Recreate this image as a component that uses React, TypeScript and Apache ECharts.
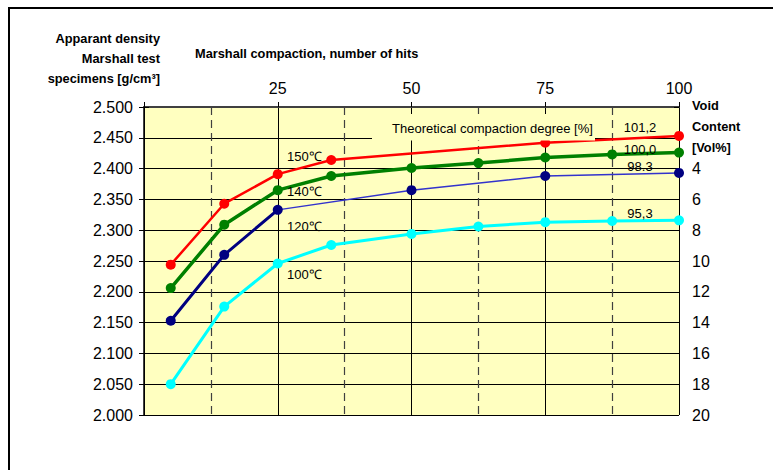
import React, { useEffect, useRef } from "react";
import * as echarts from "echarts";

// Marshall compaction (hits) and apparent density (g/cm³) per mixing temperature
const hits150 = [5, 15, 25, 35, 75, 100];
const density150 = [2.244, 2.343, 2.391, 2.414, 2.442, 2.453];

const hitsFull = [5, 15, 25, 35, 50, 62.5, 75, 87.5, 100];
const density140 = [2.206, 2.309, 2.365, 2.388, 2.401, 2.409, 2.418, 2.423, 2.426];
const density100 = [2.05, 2.176, 2.246, 2.276, 2.294, 2.306, 2.313, 2.315, 2.316];

const hits120 = [5, 15, 25, 50, 75, 100];
const density120 = [2.153, 2.26, 2.333, 2.365, 2.388, 2.393];

const hitTicks = [25, 50, 75, 100];
const voidTicks = [4, 6, 8, 10, 12, 14, 16, 18, 20];

const tempLabels = ["150℃", "140℃", "120℃", "100℃"];
const degreeLabels = ["101,2", "100,0", "98.3", "95,3"];

const FONT = "Liberation Sans, Arial, sans-serif";

const zip = (xs: number[], ys: number[]) => xs.map((x, i) => [x, ys[i]]);

export default function App() {
  const ref = useRef<HTMLDivElement>(null);

  useEffect(() => {
    if (!ref.current) return;
    const chart = echarts.init(ref.current, null, { renderer: "svg" });

    const txt = (
      text: string,
      x: number,
      y: number,
      opts: { bold?: boolean; size?: number; align?: string } = {}
    ) => ({
      type: "text",
      x,
      y,
      z: 110,
      silent: true,
      style: {
        text,
        fill: "#000",
        fontSize: opts.size ?? 13,
        fontFamily: FONT,
        fontWeight: opts.bold ? "bold" : "normal",
        align: opts.align ?? "left",
        verticalAlign: "middle",
      },
    });

    const option: any = {
      animation: false,
      backgroundColor: "#ffffff",
      grid: {
        left: 144,
        right: 94,
        top: 107,
        bottom: 55,
        show: true,
        backgroundColor: "#ffffc0",
        borderWidth: 0,
      },
      xAxis: [
        {
          type: "value",
          position: "top",
          min: 0,
          max: 100,
          interval: 25,
          axisLine: { show: true, lineStyle: { color: "#000", width: 1 } },
          axisTick: { show: true, length: 5, lineStyle: { color: "#000" } },
          axisLabel: {
            fontSize: 16,
            fontFamily: FONT,
            color: "#000",
            margin: 11,
            formatter: (v: number) => (hitTicks.includes(v) ? String(v) : ""),
          },
          splitLine: { show: true, lineStyle: { color: "#000", width: 1 } },
        },
        {
          type: "value",
          position: "bottom",
          min: 0,
          max: 100,
          interval: 12.5,
          axisLine: { show: true, lineStyle: { color: "#404040", width: 2 } },
          axisTick: { show: false },
          axisLabel: { show: false },
          splitLine: {
            show: true,
            lineStyle: {
              color: ["rgba(0,0,0,0)", "#404040"],
              type: [8, 5],
              width: 1.2,
            },
          },
        },
      ],
      yAxis: [
        {
          type: "value",
          position: "left",
          min: 2.0,
          max: 2.5,
          interval: 0.05,
          axisLine: { show: true, lineStyle: { color: "#404040", width: 2 } },
          axisTick: { show: true, length: 5, lineStyle: { color: "#000" } },
          axisLabel: {
            fontSize: 16,
            fontFamily: FONT,
            color: "#000",
            margin: 11,
            formatter: (v: number) => v.toFixed(3),
          },
          splitLine: { show: true, lineStyle: { color: "#000", width: 1 } },
        },
        {
          type: "value",
          position: "right",
          inverse: true,
          min: 0,
          max: 20,
          interval: 2,
          axisLine: { show: true, lineStyle: { color: "#000", width: 1 } },
          axisTick: { show: true, length: 5, lineStyle: { color: "#000" } },
          axisLabel: {
            fontSize: 16,
            fontFamily: FONT,
            color: "#000",
            margin: 13,
            formatter: (v: number) => (voidTicks.includes(v) ? String(v) : ""),
          },
          splitLine: { show: false },
        },
        {
          type: "value",
          position: "right",
          inverse: true,
          min: 0,
          max: 20,
          interval: 2,
          axisLine: { show: false },
          axisTick: { show: true, inside: true, length: 5, lineStyle: { color: "#000" } },
          axisLabel: { show: false },
          splitLine: { show: false },
        },
      ],
      series: [
        {
          name: "100℃",
          type: "line",
          data: zip(hitsFull, density100),
          symbol: "circle",
          symbolSize: 10,
          lineStyle: { color: "#00ffff", width: 3 },
          itemStyle: { color: "#00ffff" },
          silent: true,
        },
        {
          name: "120℃",
          type: "line",
          data: zip(hits120, density120),
          symbol: "circle",
          symbolSize: 10,
          lineStyle: { color: "#3333cc", width: 1.5 },
          itemStyle: { color: "#000080" },
          silent: true,
        },
        {
          name: "120℃ early",
          type: "line",
          data: zip(hits120.slice(0, 3), density120.slice(0, 3)),
          symbol: "none",
          lineStyle: { color: "#000080", width: 3 },
          silent: true,
        },
        {
          name: "140℃",
          type: "line",
          data: zip(hitsFull, density140),
          symbol: "circle",
          symbolSize: 10,
          lineStyle: { color: "#008000", width: 3.5 },
          itemStyle: { color: "#008000" },
          silent: true,
        },
        {
          name: "150℃",
          type: "line",
          data: zip(hits150, density150),
          symbol: "circle",
          symbolSize: 10,
          lineStyle: { color: "#ff0000", width: 2.5 },
          itemStyle: { color: "#ff0000" },
          silent: true,
        },
      ],
      graphic: [
        // frame
        { type: "line", z: 120, shape: { x1: 9, y1: 8, x2: 9, y2: 470 }, style: { stroke: "#000", lineWidth: 2 } },
        { type: "line", z: 120, shape: { x1: 8, y1: 8, x2: 773, y2: 8 }, style: { stroke: "#000", lineWidth: 2 } },
        // box behind the compaction-degree caption
        {
          type: "rect",
          z: 105,
          silent: true,
          shape: { x: 372, y: 114, width: 223, height: 26.5 },
          style: { fill: "#ffffc0" },
        },
        txt("Theoretical compaction degree [%]", 392, 128),
        // left axis title
        txt("Apparant density", 160, 38, { bold: true, size: 12.8, align: "right" }),
        txt("Marshall test", 160, 58, { bold: true, size: 12.8, align: "right" }),
        txt("specimens [g/cm³]", 160, 78, { bold: true, size: 12.8, align: "right" }),
        // top axis title
        txt("Marshall compaction, number of hits", 195, 53, { bold: true, size: 12.8 }),
        // right axis title
        txt("Void", 692, 105, { bold: true, size: 12.8 }),
        txt("Content", 692, 126, { bold: true, size: 12.8 }),
        txt("[Vol%]", 692, 147, { bold: true, size: 12.8 }),
        // temperature labels
        txt(tempLabels[0], 287, 156),
        txt(tempLabels[1], 287, 191),
        txt(tempLabels[2], 287, 226),
        txt(tempLabels[3], 287, 274),
        // compaction degree at 100 hits
        txt(degreeLabels[0], 640, 127, { align: "center" }),
        txt(degreeLabels[1], 640, 149, { align: "center" }),
        txt(degreeLabels[2], 640, 166, { align: "center" }),
        txt(degreeLabels[3], 640, 213, { align: "center" }),
      ],
    };

    chart.setOption(option);
    return () => chart.dispose();
  }, []);

  return (
    <div
      ref={ref}
      style={{ position: "absolute", left: 0, top: 0, width: 773, height: 470 }}
    />
  );
}
